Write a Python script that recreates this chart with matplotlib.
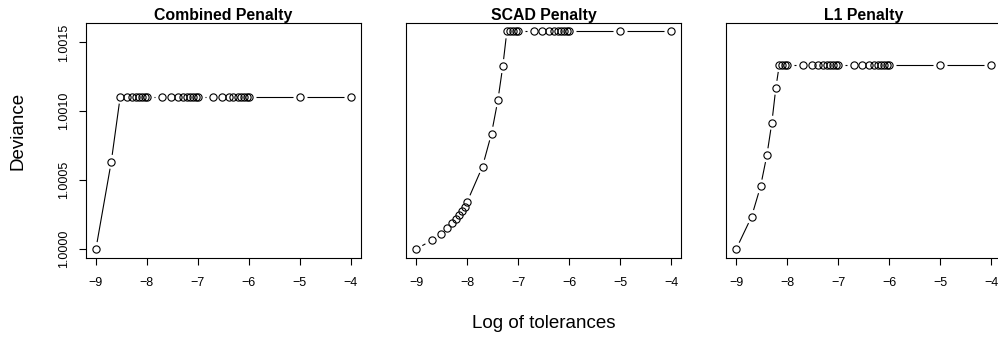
import numpy as np
import matplotlib.pyplot as plt
from matplotlib.collections import LineCollection

plt.rcParams['font.family'] = ['Liberation Sans', 'DejaVu Sans']

# tolerance grid used for the fits
tolerances = [1e-9, 2e-9, 3e-9, 4e-9, 5e-9, 6e-9, 7e-9, 8e-9, 9e-9,
              1e-8, 2e-8, 3e-8, 4e-8, 5e-8, 6e-8, 7e-8, 8e-8, 9e-8,
              1e-7, 2e-7, 3e-7, 4e-7, 5e-7, 6e-7, 7e-7, 8e-7, 9e-7,
              1e-6, 1e-5, 1e-4]

dev_combined = [1.000000, 1.000633, 1.001106, 1.001106, 1.001106, 1.001106,
                1.001106, 1.001106, 1.001106, 1.001106, 1.001106, 1.001106,
                1.001106, 1.001106, 1.001106, 1.001106, 1.001106, 1.001106,
                1.001106, 1.001106, 1.001106, 1.001106, 1.001106, 1.001106,
                1.001106, 1.001106, 1.001106, 1.001106, 1.001106, 1.001106]

dev_scad = [1.000000, 1.000062, 1.000109, 1.000149, 1.000188, 1.000220,
            1.000249, 1.000275, 1.000304, 1.000343, 1.000599, 1.000838,
            1.001080, 1.001328, 1.001580, 1.001580, 1.001580, 1.001580,
            1.001580, 1.001580, 1.001580, 1.001580, 1.001580, 1.001580,
            1.001580, 1.001580, 1.001580, 1.001580, 1.001580, 1.001580]

dev_l1 = [1.000000, 1.000234, 1.000454, 1.000681, 1.000917, 1.001171,
          1.001336, 1.001336, 1.001336, 1.001336, 1.001336, 1.001336,
          1.001336, 1.001336, 1.001336, 1.001336, 1.001336, 1.001336,
          1.001336, 1.001336, 1.001336, 1.001336, 1.001336, 1.001336,
          1.001336, 1.001336, 1.001336, 1.001336, 1.001336, 1.001336]

titles = ['Combined Penalty', 'SCAD Penalty', 'L1 Penalty']
xticks = [-9, -8, -7, -6, -5, -4]
yticks = [1.0000, 1.0005, 1.0010, 1.0015]

W, H = 998, 340
fig = plt.figure(figsize=(W / 100, H / 100), dpi=100)

x = np.log10(tolerances)
series = [dev_combined, dev_scad, dev_l1]

lo = min(min(s) for s in series)
hi = max(max(s) for s in series)
ypad = 0.04 * (hi - lo)
xpad = 0.04 * (x.max() - x.min())


def lines_with_gaps(ax, xs, ys, gap=7.0):
    # segments between points, cut back so they stop short of the circles
    tr = ax.transData
    pts = tr.transform(np.column_stack([xs, ys]))
    segs = []
    for p, q in zip(pts[:-1], pts[1:]):
        d = q - p
        L = np.hypot(*d)
        if L <= 2 * gap:
            continue
        u = d / L
        segs.append(tr.inverted().transform(np.array([p + u * gap, q - u * gap])))
    ax.add_collection(LineCollection(segs, colors='black', linewidths=0.8))


lefts = [85.7, 406, 726]
axw, top, bot = 275.3, 22.7, 257.7
for i, (ys, title) in enumerate(zip(series, titles)):
    ax = fig.add_axes([lefts[i] / W, (H - bot) / H, axw / W, (bot - top) / H])
    ax.set_xlim(x.min() - xpad, x.max() + xpad)
    ax.set_ylim(lo - ypad, hi + ypad)
    lines_with_gaps(ax, x, ys)
    ax.plot(x, ys, 'o', ls='none', mfc='none', mec='black', ms=5.2, mew=0.8)
    ax.set_title(title, fontsize=11.4, fontweight='bold', pad=1.5)
    ax.set_xticks(xticks)
    ax.set_xticklabels([f'\u2212{abs(t)}' for t in xticks])
    ax.tick_params(axis='x', length=5, width=0.8, labelsize=9, pad=9)
    if i == 0:
        ax.set_yticks(yticks)
        ax.set_yticklabels([f'{t:.4f}' for t in yticks])
        ax.tick_params(axis='y', length=5, width=0.8, labelsize=9, pad=6,
                       labelrotation=90)
        for lab in ax.get_yticklabels():
            lab.set_va('center')
    else:
        ax.set_yticks([])
    for sp in ax.spines.values():
        sp.set_linewidth(0.8)

fig.text(544 / W, 1 - 323 / H, 'Log of tolerances', ha='center', va='center',
         fontsize=13.5)
fig.text(17.5 / W, 1 - 131 / H, 'Deviance', ha='center', va='center',
         rotation=90, fontsize=13.5)

fig.savefig('out.png', dpi=100)
